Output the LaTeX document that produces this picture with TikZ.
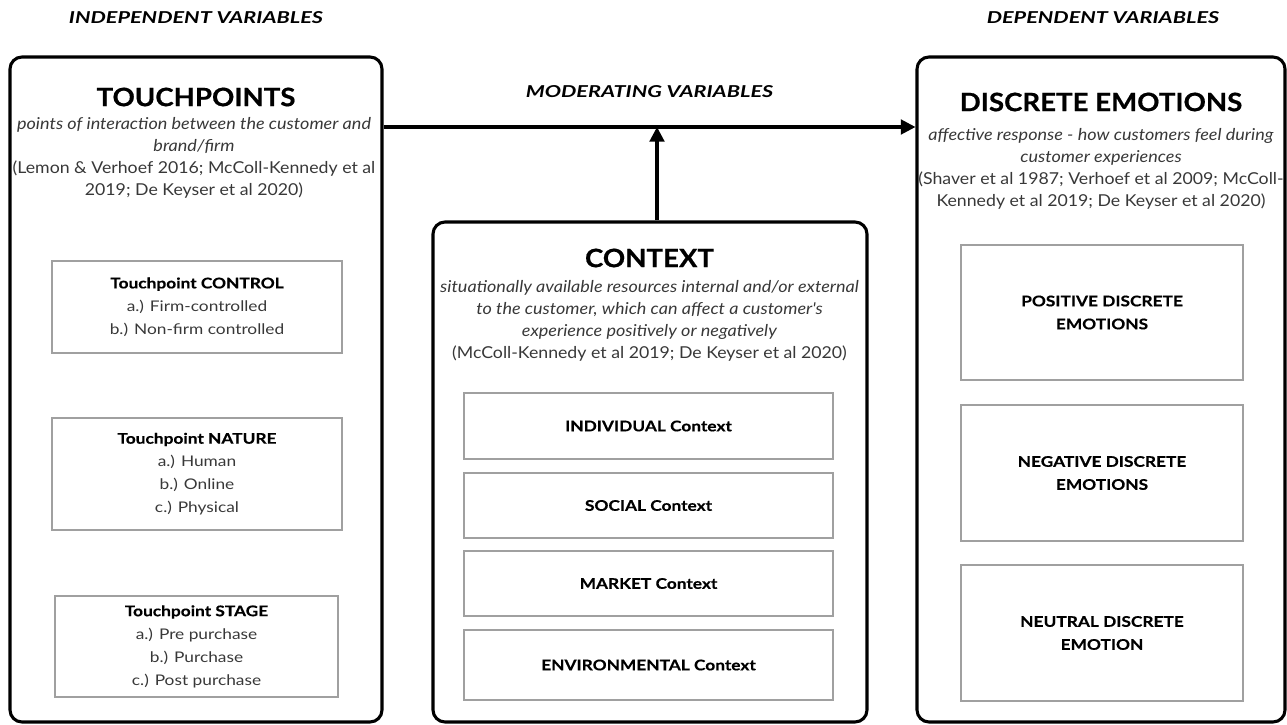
\documentclass[tikz,border=0pt]{standalone}
\usepackage{fontspec}
\setmainfont{Lato}
\newfontfamily\headfont{Lato}[FakeStretch=1.32, BoldFeatures={FakeBold=0.8}]
\newfontfamily\titlefont{Lato}[FakeStretch=1.09, BoldFeatures={FakeBold=0.6}]
\newfontfamily\notefont{Lato}[FakeStretch=1.08, ItalicFeatures={FakeStretch=1.10}]
\newfontfamily\boxfont{Lato}[FakeStretch=1.18, BoldFeatures={FakeBold=0.4}]
\usetikzlibrary{positioning}
\usetikzlibrary{arrows.meta}
\definecolor{box-grey}{HTML}{A0A0A0}
\colorlet{bodytext}{black!78}

\begin{document}
\begin{tikzpicture}[x=0.75pt, y=-0.75pt,
  boxsize/.style 2 args={minimum width=#1*0.75pt, minimum height=#2*0.75pt},
  bigbox/.style={draw, line width=2.3pt, rounded corners=9pt, inner sep=0pt},
  subbox/.style={draw=box-grey, line width=0.9pt, inner sep=0pt, align=center, text=bodytext, font=\boxfont\fontsize{11}{17.25}\selectfont},
  heading/.style={font=\headfont\fontsize{12.3}{14}\selectfont\bfseries\itshape},
  boxtitle/.style={font=\titlefont\fontsize{19}{22}\selectfont\bfseries},
  boxnote/.style={align=center, text=bodytext, font=\notefont\fontsize{12.3}{16.5}\selectfont},
  flow/.style={line width=2.3pt, -{Triangle[length=11pt,width=11pt]}}]
\useasboundingbox (0,0) rectangle (1287,724);
% column headings
\node[heading] (indep) at (196,18) {INDEPENDENT VARIABLES};
\node[heading] (dep) at (1103,18) {DEPENDENT VARIABLES};
\node[heading] (mod) at (649.5,92) {MODERATING VARIABLES};
% main boxes
\node[bigbox, boxsize={372}{665}] (tp) at (196,389.5) {};
\node[bigbox, boxsize={434}{500}] (ctx) at (650,472) {};
\node[bigbox, boxsize={368}{665}] (de) at (1101,389.5) {};
% touchpoints
\node[boxtitle] (tptitle) at (196,97) {TOUCHPOINTS};
\node[boxnote] (tpnote) at (194,158) {\textit{points of interaction between the customer and}\\
  \textit{brand/firm}\\
  (Lemon \& Verhoef 2016; McColl-Kennedy et al\\
  2019; De Keyser et al 2020)};
\node[subbox, boxsize={290}{92}] (control) at (197,307) {\textcolor{black}{\textbf{Touchpoint CONTROL}}\\
  a.) Firm-controlled\\ b.) Non-firm controlled};
\node[subbox, boxsize={290}{112}] (nature) at (197,474) {\textcolor{black}{\textbf{Touchpoint NATURE}}\\
  a.) Human\\ b.) Online\\ c.) Physical};
\node[subbox, boxsize={283}{101}] (stage) at (196.5,646.5) {\textcolor{black}{\textbf{Touchpoint STAGE}}\\
  a.) Pre purchase\\ b.) Purchase\\ c.) Post purchase};
% context
\node[boxtitle] (ctxtitle) at (649.5,258) {CONTEXT};
\node[boxnote] (ctxnote) at (649.5,321) {\textit{situationally available resources internal and/or external}\\
  \textit{to the customer, which can affect a customer's}\\
  \textit{experience positively or negatively}\\
  (McColl-Kennedy et al 2019; De Keyser et al 2020)};
\node[subbox, boxsize={369}{66}, text=black] (indiv) at (648.5,426) {\textbf{INDIVIDUAL Context}};
\node[subbox, boxsize={369}{65}, text=black] (social) at (648.5,505.5) {\textbf{SOCIAL Context}};
\node[subbox, boxsize={369}{65}, text=black] (market) at (648.5,583.5) {\textbf{MARKET Context}};
\node[subbox, boxsize={369}{70}, text=black] (envir) at (648.5,665) {\textbf{ENVIRONMENTAL Context}};
% discrete emotions
\node[boxtitle] (detitle) at (1101,102) {DISCRETE EMOTIONS};
\node[boxnote] (denote) at (1101,169) {\textit{affective response - how customers feel during}\\
  \textit{customer experiences}\\
  (Shaver et al 1987; Verhoef et al 2009; McColl-\\
  Kennedy et al 2019; De Keyser et al 2020)};
\node[subbox, boxsize={282}{135}, text=black] (positive) at (1102,312.5) {\textbf{POSITIVE DISCRETE}\\ \textbf{EMOTIONS}};
\node[subbox, boxsize={282}{136}, text=black] (negative) at (1102,473) {\textbf{NEGATIVE DISCRETE}\\ \textbf{EMOTIONS}};
\node[subbox, boxsize={282}{136}, text=black] (neutral) at (1102,633) {\textbf{NEUTRAL DISCRETE}\\ \textbf{EMOTION}};
% arrows
\coordinate (link) at (657,127);
\draw[flow] (tp.east |- link) -- (de.west |- link);
\draw[flow] (ctx.north -| link) -- (link);
\end{tikzpicture}
\end{document}
